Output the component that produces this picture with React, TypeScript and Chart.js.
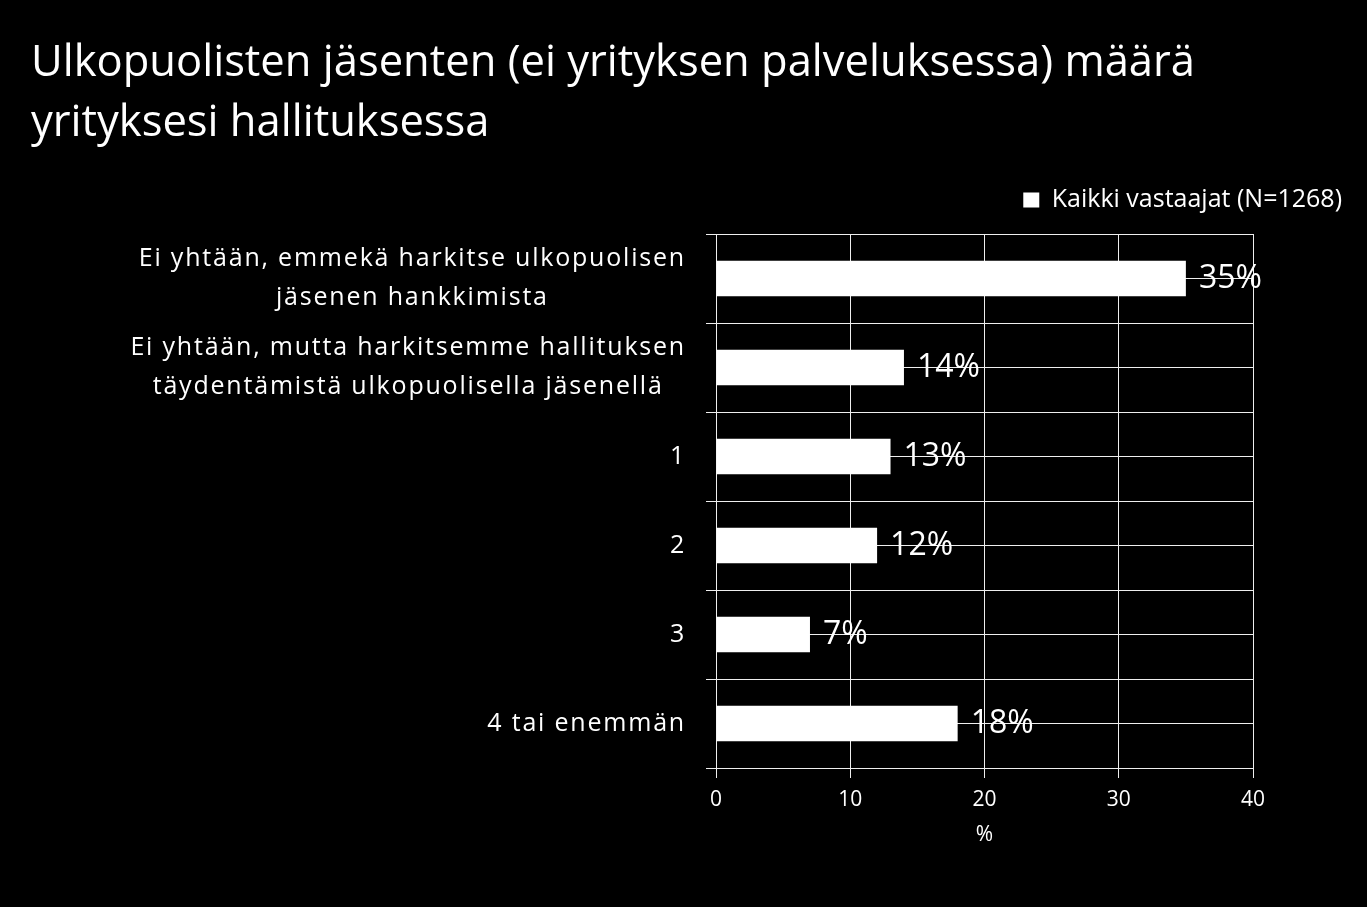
import { useEffect, useRef } from "react";
import { Chart, registerables } from "chart.js";

Chart.register(...registerables);

const titleLines = [
  "Ulkopuolisten jäsenten (ei yrityksen palveluksessa) määrä",
  "yrityksesi hallituksessa",
];
const categories: string[][] = [
  ["Ei yhtään, emmekä harkitse ulkopuolisen", "jäsenen hankkimista"],
  ["Ei yhtään, mutta harkitsemme hallituksen", "täydentämistä ulkopuolisella jäsenellä"],
  ["1"],
  ["2"],
  ["3"],
  ["4 tai enemmän"],
];
const values = [35, 14, 13, 12, 7, 18];
const seriesLabel = "Kaikki vastaajat (N=1268)";
const xTicks = [0, 10, 20, 30, 40];
const xAxisTitle = "%";

const FONT = "'Open Sans'";
const GRID = "#eeeeee";

const categoryLabelPlugin = {
  id: "categoryLabels",
  afterDraw(chart: any) {
    const scale = chart.scales.y;
    const ctx = chart.ctx;
    ctx.save();
    ctx.font = `25px ${FONT}`;
    try {
      (ctx as any).letterSpacing = "1.8px";
    } catch (e) {}
    ctx.fillStyle = "#ffffff";
    ctx.textAlign = "center";
    ctx.textBaseline = "middle";
    const xRight = scale.right - 30;
    const lh = 39;
    (chart.data.labels as string[][]).forEach((lines, i) => {
      const y = scale.getPixelForTick(i);
      const w = Math.max(...lines.map((l) => ctx.measureText(l).width));
      const cx = xRight - w / 2;
      lines.forEach((l, j) => {
        ctx.fillText(l, cx, y + (j - (lines.length - 1) / 2) * lh);
      });
    });
    ctx.restore();
  },
};

const valueLabelPlugin = {
  id: "valueLabels",
  afterDatasetsDraw(chart: any) {
    const ctx = chart.ctx;
    const meta = chart.getDatasetMeta(0);
    const data = chart.data.datasets[0].data as number[];
    ctx.save();
    ctx.font = `32px ${FONT}`;
    ctx.fillStyle = "#ffffff";
    ctx.textAlign = "left";
    ctx.textBaseline = "middle";
    meta.data.forEach((bar: any, i: number) => {
      ctx.fillText(`${data[i]}%`, bar.x + 13, bar.y);
    });
    ctx.restore();
  },
};

export default function App() {
  const ref = useRef<HTMLCanvasElement>(null);
  useEffect(() => {
    if (!ref.current) return;
    const chart = new Chart(ref.current, {
      type: "bar",
      data: {
        labels: categories as any,
        datasets: [
          {
            label: seriesLabel,
            data: values,
            backgroundColor: "#ffffff",
            borderColor: "#ffffff",
            borderWidth: 0,
            barPercentage: 0.4,
            categoryPercentage: 1,
          },
        ],
      },
      options: {
        indexAxis: "y",
        animation: false,
        responsive: false,
        layout: { padding: { left: 31, right: 15, top: 0, bottom: 55 } },
        font: { family: FONT },
        plugins: {
          title: {
            display: true,
            text: titleLines,
            align: "start",
            color: "#ffffff",
            font: { family: FONT, size: 43.5, weight: "normal", lineHeight: 60 / 43.5 },
            padding: { top: 34, bottom: 23.5 },
          },
          legend: {
            display: true,
            position: "top",
            align: "end",
            labels: {
              color: "#ffffff",
              font: { family: FONT, size: 25 },
              boxWidth: 16,
              boxHeight: 15,
              padding: 10,
            },
          },
          tooltip: { enabled: false },
        },
        scales: {
          x: {
            type: "linear",
            position: "bottom",
            min: 0,
            max: 40,
            afterBuildTicks: (s: any) => {
              s.ticks = xTicks.map((v) => ({ value: v }));
            },
            grid: { color: GRID, lineWidth: 1, tickLength: 10, drawTicks: true },
            border: { color: GRID, width: 1 },
            ticks: { color: "#ffffff", font: { family: FONT, size: 21 }, padding: 9 },
            title: {
              display: true,
              text: xAxisTitle,
              color: "#ffffff",
              font: { family: FONT, size: 21 },
              padding: { top: 0, bottom: 4 },
            },
            afterFit: (s: any) => {
              s.height = 84;
            },
          },
          x2: {
            type: "linear",
            position: "top",
            display: true,
            grid: { display: false },
            border: { display: false },
            ticks: { display: false },
            afterFit: (s: any) => {
              s.height = 11.5;
            },
          },
          y: {
            type: "category",
            position: "left",
            offset: true,
            grid: { color: GRID, lineWidth: 1, offset: true, tickLength: 10, drawTicks: true },
            border: { color: GRID, width: 1 },
            ticks: { display: false },
            afterFit: (s: any) => {
              s.width = 685;
            },
          },
          y2: {
            type: "category",
            position: "right",
            offset: true,
            grid: { color: GRID, lineWidth: 1, offset: false, drawTicks: false },
            border: { display: false },
            ticks: { display: false },
            afterFit: (s: any) => {
              s.width = 99;
            },
          },
        },
      } as any,
      plugins: [categoryLabelPlugin, valueLabelPlugin],
    });
    return () => chart.destroy();
  }, []);

  return (
    <div
      style={{
        position: "fixed",
        left: 0,
        top: 0,
        width: 1367,
        height: 907,
        background: "#000000",
      }}
    >
      <canvas ref={ref} width={1367} height={907} style={{ display: "block" }} />
    </div>
  );
}
